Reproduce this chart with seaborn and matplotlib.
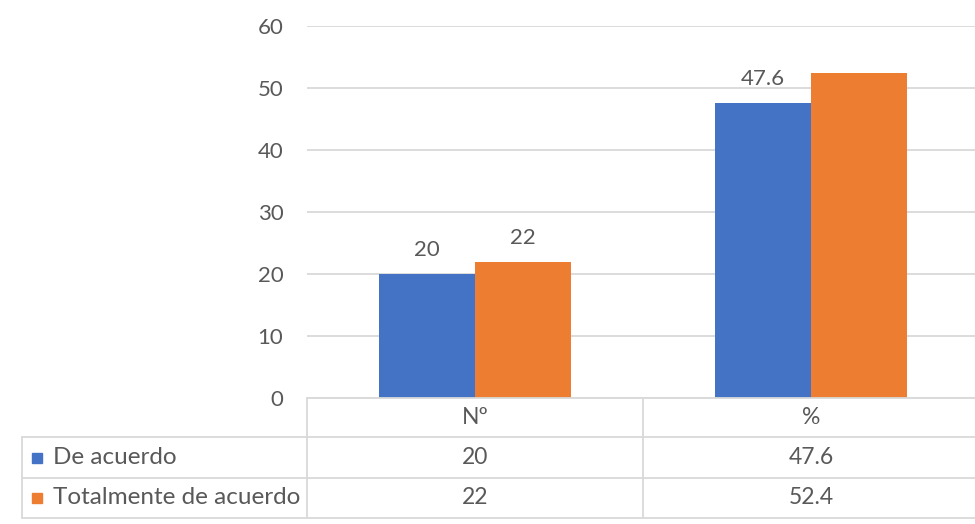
import matplotlib
matplotlib.use("Agg")

import matplotlib.pyplot as plt
import matplotlib.transforms as mtransforms
import pandas as pd
import seaborn as sns

categorias = ["Nº", "%"]
series = ["De acuerdo", "Totalmente de acuerdo"]
de_acuerdo = [20, 47.6]
totalmente_de_acuerdo = [22, 52.4]
# Excel left the label off the tallest bar
etiquetas_ocultas = [("Totalmente de acuerdo", "%")]

colores = ["#4472C4", "#ED7D31"]
gris_texto = "#595959"
gris_linea = "#D9D9D9"

df = pd.DataFrame({
    "categoria": categorias * 2,
    "serie": [series[0]] * 2 + [series[1]] * 2,
    "valor": de_acuerdo + totalmente_de_acuerdo,
})

sns.set_style("white")
plt.rcParams["font.family"] = ["Lato", "DejaVu Sans"]

W, H = 975, 524
fig = plt.figure(figsize=(W / 100, H / 100), dpi=100)
ax = fig.add_axes([307 / W, (H - 398) / H, (W - 307) / W, (398 - 26) / H])

sns.barplot(data=df, x="categoria", y="valor", hue="serie", order=categorias,
            hue_order=series, palette=colores, saturation=1, width=0.57, gap=0,
            linewidth=0, legend=False, ax=ax)

ax.set_xlim(-0.5, -0.5 + (W - 307) / 336)
ax.set_ylim(0, 60)
ax.set_yticks(range(0, 61, 10))
ax.yaxis.grid(True, color=gris_linea, lw=1.3)
ax.set_axisbelow(True)
ax.tick_params(axis="y", length=0, pad=17, labelsize=16, labelcolor=gris_texto)
ax.tick_params(axis="x", length=0, labelbottom=False)
ax.set_xlabel("")
ax.set_ylabel("")
sns.despine(ax=ax, left=True, bottom=True)

# data labels
for cont, serie in zip(ax.containers, series):
    for bar, cat in zip(cont, categorias):
        if (serie, cat) in etiquetas_ocultas:
            continue
        ax.annotate(f"{bar.get_height():g}", (bar.get_x() + bar.get_width() / 2, bar.get_height()),
                    xytext=(0, 10), textcoords="offset points", ha="center", va="bottom",
                    fontsize=16, color=gris_texto)

# data table under the plot
def fy(px):
    return (H - px) / H

trans = mtransforms.blended_transform_factory(ax.transData, fig.transFigure)
filas_y = [398, 437, 478, 518]
x_izq = 22 / W
x_eje = 307 / W

for i, y in enumerate(filas_y):
    x0 = x_eje if i == 0 else x_izq
    fig.add_artist(plt.Line2D([x0, 1], [fy(y), fy(y)], transform=fig.transFigure,
                              color=gris_linea, lw=1.3))
fig.add_artist(plt.Line2D([x_izq, x_izq], [fy(437), fy(518)], transform=fig.transFigure,
                          color=gris_linea, lw=1.3))
for k in range(len(categorias)):
    fig.add_artist(plt.Line2D([k - 0.5, k - 0.5], [fy(398), fy(518)], transform=trans,
                              color=gris_linea, lw=1.3))

centros = [(a + b) / 2 for a, b in zip(filas_y[:-1], filas_y[1:])]
for k, cat in enumerate(categorias):
    fig.text(k, fy(centros[0]), cat, transform=trans, ha="center", va="center",
             fontsize=16.5, color=gris_texto)
for fila, (serie, vals, col) in enumerate(zip(series, [de_acuerdo, totalmente_de_acuerdo], colores)):
    yc = fy(centros[fila + 1])
    fig.patches.append(plt.Rectangle((32 / W, yc - 5 / H), 10 / W, 10 / H,
                                     transform=fig.transFigure, color=col))
    fig.text(53 / W, yc, serie, ha="left", va="center", fontsize=17.5, color=gris_texto)
    for k, v in enumerate(vals):
        fig.text(k, yc, f"{v:g}", transform=trans, ha="center", va="center",
                 fontsize=16.5, color=gris_texto)

fig.savefig("out.png", dpi=100, facecolor="white")
plt.close(fig)
